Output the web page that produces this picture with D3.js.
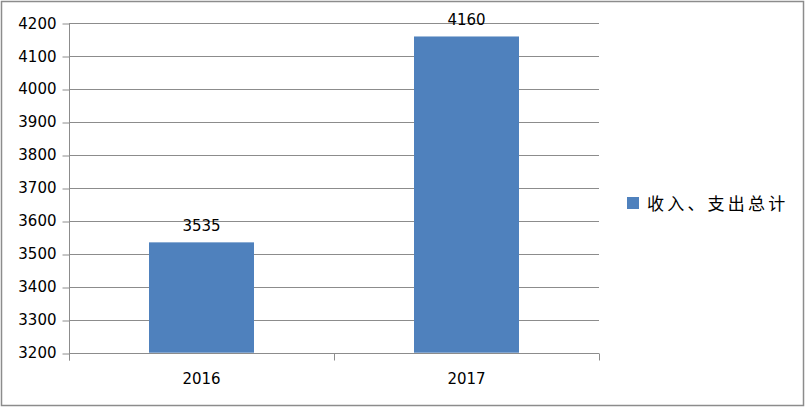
<!DOCTYPE html>
<html><head><meta charset="utf-8">
<script src="https://cdn.jsdelivr.net/npm/d3@7"></script>
<style>html,body{margin:0;padding:0;background:#fff;}svg{display:block;}</style>
</head><body>
<svg id="c" width="807" height="408"></svg>
<script>
const categories = ["2016", "2017"];
const values = [3535, 4160];
const seriesName = "收入、支出总计";
const yTicks = [3200, 3300, 3400, 3500, 3600, 3700, 3800, 3900, 4000, 4100, 4200];

const svg = d3.select("#c");
const W = 807, H = 408;
const m = {left: 69, right: 599, top: 23.3, bottom: 352.7};

svg.append("rect").attr("x", 1.5).attr("y", 1.5).attr("width", 802).attr("height", 404)
  .attr("fill", "#fff").attr("stroke", "#8c8c8c").attr("stroke-width", 1.5);

const x = d3.scaleBand().domain(categories).range([m.left, m.right]).paddingInner(0).paddingOuter(0);
const y = d3.scaleLinear().domain([3200, 4200]).range([m.bottom, m.top]);

// gridlines
svg.append("g").selectAll("line").data(yTicks).join("line")
  .attr("x1", m.left).attr("x2", m.right)
  .attr("y1", d => Math.round(y(d)) + 0.5).attr("y2", d => Math.round(y(d)) + 0.5)
  .attr("stroke", "#8c8c8c").attr("stroke-width", 1);

// bars
const bw = 105;
svg.append("g").selectAll("rect").data(values).join("rect")
  .attr("x", (d, i) => x(categories[i]) + x.bandwidth() / 2 - bw / 2)
  .attr("width", bw)
  .attr("y", d => y(d))
  .attr("height", d => y(3200) - y(d))
  .attr("fill", "#4f81bd");

// y axis
const yAxis = d3.axisLeft(y).tickValues(yTicks).tickSize(7).tickPadding(6).tickFormat(d3.format("d"));
const ga = svg.append("g").attr("transform", `translate(${m.left + 0.5},0)`).call(yAxis);
ga.select(".domain").remove();
ga.append("line").attr("x1", 0).attr("x2", 0).attr("y1", m.top).attr("y2", m.bottom + 8).attr("stroke", "#8c8c8c");
ga.selectAll(".tick line").attr("stroke", "#8c8c8c").attr("transform", d => `translate(0,${Math.round(y(d)) + 0.5 - y(d)})`);
ga.selectAll(".tick text").attr("fill", "#000").style("font-family", "DejaVu Sans").style("font-size", "15px");

// x axis
const xAxis = d3.axisBottom(x).tickSize(0).tickPadding(20);
const gx = svg.append("g").attr("transform", `translate(0,${Math.round(m.bottom) + 0.5})`).call(xAxis);
gx.select(".domain").remove();
gx.selectAll(".tick text").attr("fill", "#000").style("font-family", "DejaVu Sans").style("font-size", "15px");
// category boundary ticks
const bounds = categories.map(c => x(c)).concat([m.right]).slice(1);
gx.selectAll(".bt").data(bounds).join("line").attr("class", "bt")
  .attr("x1", d => Math.round(d) + 0.5).attr("x2", d => Math.round(d) + 0.5)
  .attr("y1", 0).attr("y2", 7).attr("stroke", "#8c8c8c");

// data labels
svg.append("g").selectAll("text").data(values).join("text")
  .attr("x", (d, i) => x(categories[i]) + x.bandwidth() / 2)
  .attr("y", d => y(d) - 11)
  .attr("text-anchor", "middle")
  .style("font-family", "DejaVu Sans").style("font-size", "15px").attr("fill", "#000")
  .text(d => d);

// legend
const lg = svg.append("g").attr("transform", "translate(627,197)");
lg.append("rect").attr("width", 12).attr("height", 12).attr("fill", "#4f81bd");
lg.append("text").attr("x", 20).attr("y", 12.5).style("font-family", "Noto Sans CJK SC")
  .style("font-size", "17px").style("letter-spacing", "3.2px").attr("fill", "#000").text(seriesName);
</script>
</body></html>
